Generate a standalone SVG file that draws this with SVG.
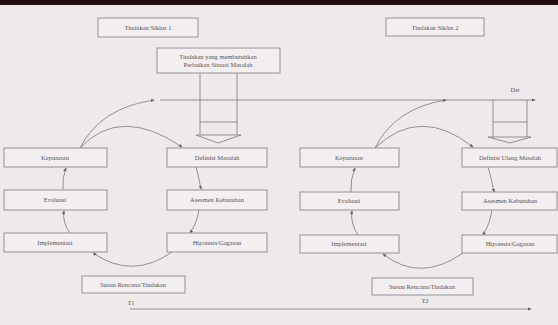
<svg xmlns="http://www.w3.org/2000/svg" width="558" height="325" viewBox="0 0 558 325">
<defs>
<marker id="ah" viewBox="0 0 6 6" refX="5" refY="3" markerWidth="5" markerHeight="5" orient="auto">
<path d="M0,0.5 L6,3 L0,5.5 Z" fill="#666"/>
</marker>
<style>
.bx{fill:#f3eff0;stroke:#888;stroke-width:0.9}
.t{font-family:"Liberation Serif",serif;font-size:6.5px;fill:#555;text-anchor:middle}
.c{fill:none;stroke:#7a7a7a;stroke-width:0.8}
.ca{fill:none;stroke:#7a7a7a;stroke-width:0.8;marker-end:url(#ah)}
</style>
</defs>
<rect width="558" height="325" fill="#eee9eb"/>
<rect width="558" height="5" fill="#1e0e10"/>

<g id="connectors">
<!-- timeline top -->
<line class="ca" x1="160" y1="100" x2="535" y2="100"/>
<!-- bottom timeline -->
<line class="ca" x1="130" y1="309" x2="531" y2="309"/>
<!-- left big arrow -->
<path class="c" d="M200,73 V135 M237,73 V135 M200,122 H237 M196,135 H241 M196,135 L218,143 L241,135"/>
<!-- right big arrow -->
<path class="c" d="M493,100 V137 M527,100 V137 M493,122 H527 M488,137 H531 M488,137 L510,143 L531,137"/>
<!-- left cycle -->
<path class="ca" d="M80,148 Q100,108 154,100"/>
<path class="ca" d="M80,148 Q120,105 182,147"/>
<path class="ca" d="M196,167 Q199,178 201,189"/>
<path class="ca" d="M199,210 Q197,223 190,233"/>
<path class="ca" d="M172,252 Q132,280 93,253"/>
<path class="ca" d="M70,233 Q62,222 64,211"/>
<path class="ca" d="M63,189 Q62,178 66,168"/>
<!-- right cycle -->
<path class="ca" d="M375,148 Q395,108 446,100"/>
<path class="ca" d="M375,148 Q420,105 473,147"/>
<path class="ca" d="M488,167 Q492,180 494,192"/>
<path class="ca" d="M492,210 Q490,224 483,235"/>
<path class="ca" d="M463,253 Q420,283 383,254"/>
<path class="ca" d="M358,235 Q350,223 352,211"/>
<path class="ca" d="M351,192 Q350,180 355,168"/>
</g>

<g id="siklus1"><rect class="bx" x="98" y="18" width="100" height="19"/><text class="t" x="148" y="30">Tindakan Siklus 1</text></g>
<g id="situasi"><rect class="bx" x="157" y="48" width="123" height="25"/><text class="t" x="218" y="58.5">Tindakan yang membutuhkan</text><text class="t" x="218" y="67">Perbaikan Situasi Masalah</text></g>
<g id="siklus2"><rect class="bx" x="386" y="18" width="98" height="18"/><text class="t" x="435" y="29.5">Tindakan Siklus 2</text></g>

<g id="keputusan1"><rect class="bx" x="4" y="148" width="103" height="19"/><text class="t" x="55" y="160">Keputusan</text></g>
<g id="evaluasi1"><rect class="bx" x="4" y="190" width="103" height="20"/><text class="t" x="55" y="202">Evaluasi</text></g>
<g id="implementasi1"><rect class="bx" x="4" y="233" width="103" height="19"/><text class="t" x="55" y="245">Implementasi</text></g>
<g id="definisi1"><rect class="bx" x="167" y="148" width="100" height="19"/><text class="t" x="217" y="160">Definisi Masalah</text></g>
<g id="asesmen1"><rect class="bx" x="167" y="190" width="100" height="20"/><text class="t" x="217" y="202">Asesmen Kebutuhan</text></g>
<g id="hipotesis1"><rect class="bx" x="167" y="233" width="100" height="19"/><text class="t" x="217" y="245">Hipotesis/Gagasan</text></g>
<g id="rencana1"><rect class="bx" x="82" y="276" width="103" height="17"/><text class="t" x="133" y="287">Susun Rencana/Tindakan</text></g>
<g id="t1"><text class="t" x="131" y="305">T1</text></g>

<g id="keputusan2"><rect class="bx" x="300" y="148" width="99" height="19"/><text class="t" x="349" y="160">Keputusan</text></g>
<g id="evaluasi2"><rect class="bx" x="300" y="192" width="99" height="18"/><text class="t" x="349" y="203">Evaluasi</text></g>
<g id="implementasi2"><rect class="bx" x="300" y="235" width="99" height="18"/><text class="t" x="349" y="246">Implementasi</text></g>
<g id="definisi2"><rect class="bx" x="462" y="148" width="95" height="19"/><text class="t" x="510" y="160">Definisi Ulang Masalah</text></g>
<g id="asesmen2"><rect class="bx" x="462" y="192" width="95" height="18"/><text class="t" x="510" y="203">Asesmen Kebutuhan</text></g>
<g id="hipotesis2"><rect class="bx" x="462" y="235" width="95" height="18"/><text class="t" x="510" y="246">Hipotesis/Gagasan</text></g>
<g id="rencana2"><rect class="bx" x="372" y="278" width="101" height="17"/><text class="t" x="422" y="289">Susun Rencana/Tindakan</text></g>
<g id="t2"><text class="t" x="425" y="303">T2</text></g>
<g id="dst"><text class="t" x="515" y="92">Dst</text></g>
</svg>
